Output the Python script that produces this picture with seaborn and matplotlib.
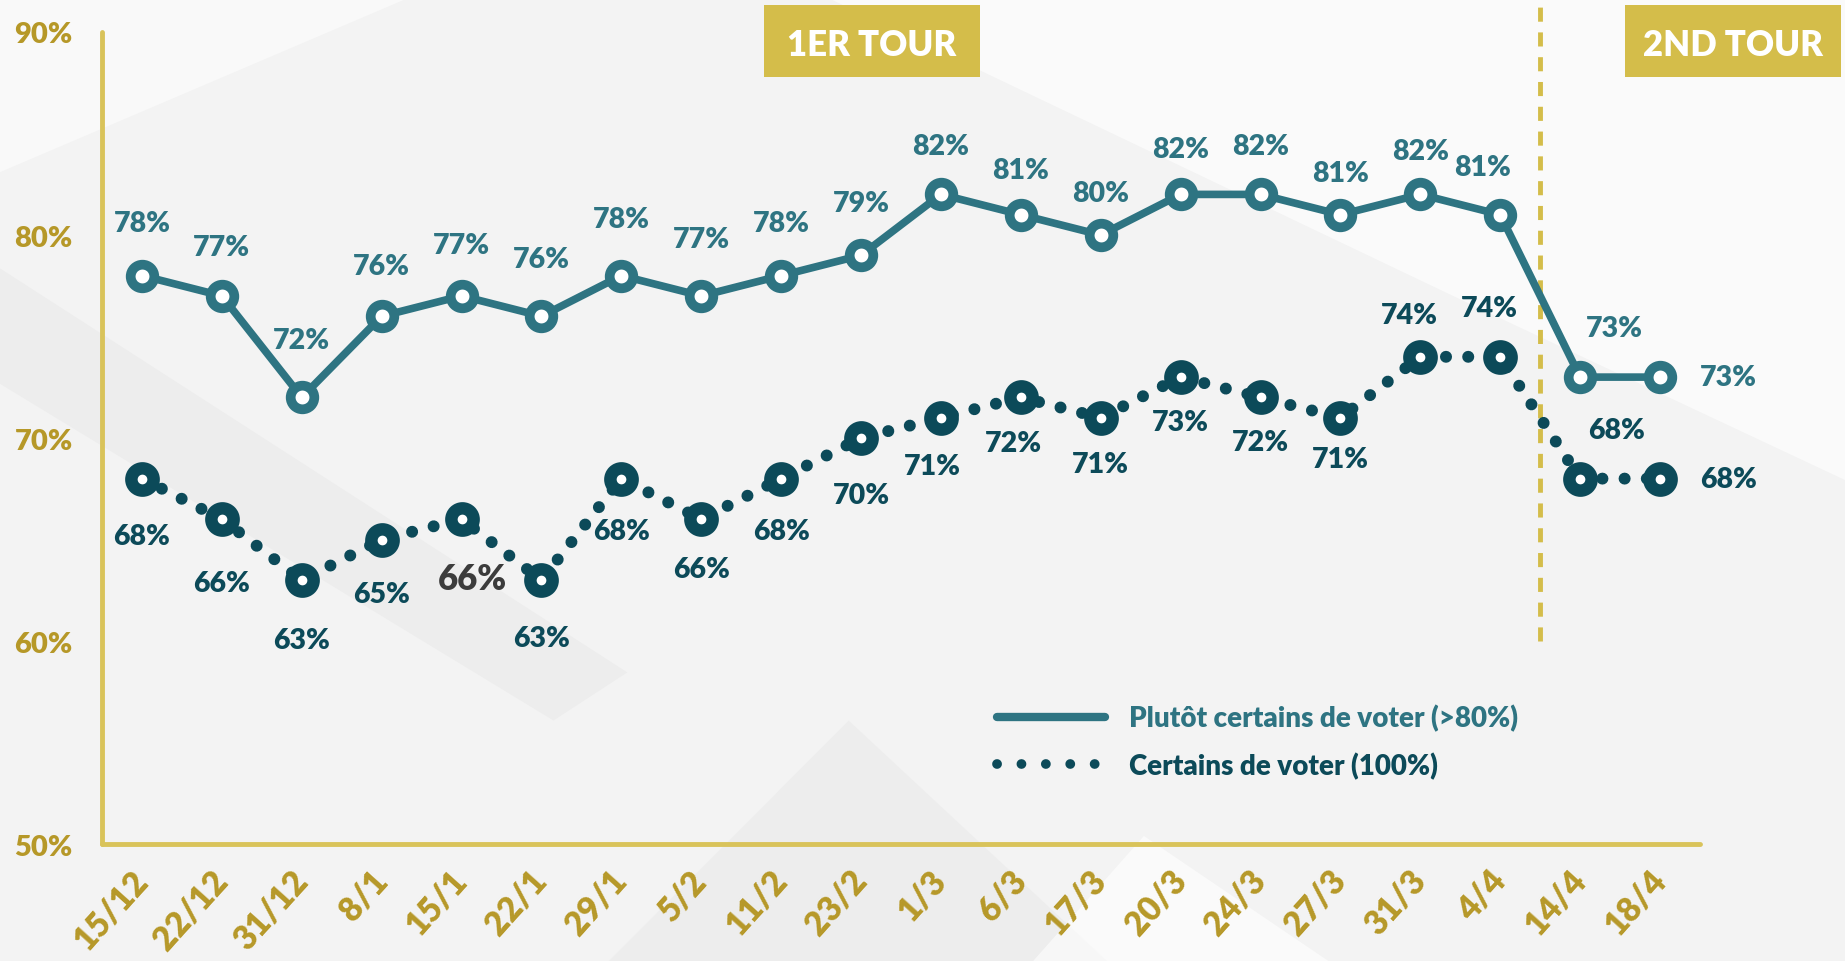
import numpy as np
import matplotlib.pyplot as plt
import seaborn as sns
import pandas as pd
from matplotlib.lines import Line2D
from matplotlib.patches import Rectangle, Polygon

# data
dates = ['15/12', '22/12', '31/12', '8/1', '15/1', '22/1', '29/1', '5/2', '11/2', '23/2',
         '1/3', '6/3', '17/3', '20/3', '24/3', '27/3', '31/3', '4/4', '14/4', '18/4']
plutot = [78, 77, 72, 76, 77, 76, 78, 77, 78, 79, 82, 81, 80, 82, 82, 81, 82, 81, 73, 73]
certains = [68, 66, 63, 65, 66, 63, 68, 66, 68, 70, 71, 72, 71, 73, 72, 71, 74, 74, 68, 68]
y_ticks = [50, 60, 70, 80, 90]
leg_labels = ['Plutôt certains de voter (>80%)', 'Certains de voter (100%)']
tours = ['1ER TOUR', '2ND TOUR']

TEAL = '#2E7482'
DARK = '#0C4A59'
GOLD = '#B69828'
BOX = '#D4BD4A'
AXLINE = '#D9C35A'

sns.set_style('white')
plt.rcParams['font.family'] = ['Lato', 'DejaVu Sans']

df = pd.DataFrame({'pos': np.arange(len(dates)), 'plutot': plutot, 'certains': certains})

fig = plt.figure(figsize=(18.45, 9.62), dpi=100, facecolor='#F3F3F3')

# faint diagonal background shapes (behind everything)
shapes = [
    ([(0.45, 1.0), (1.0, 1.0), (1.0, 0.5), (0.8, 0.68)], 'white', 0.6),
    ([(0.0, 0.72), (0.0, 0.6), (0.3, 0.25), (0.34, 0.3)], '#E9E9E9', 0.6),
    ([(0.33, 0.0), (0.6, 0.0), (0.46, 0.25)], '#EAEAEA', 0.6),
    ([(0.56, 0.0), (0.72, 0.0), (0.62, 0.13)], 'white', 0.6),
    ([(0.0, 1.0), (0.22, 1.0), (0.0, 0.82)], 'white', 0.5),
]
for pts, col, a in shapes:
    fig.patches.append(Polygon(pts, closed=True, transform=fig.transFigure,
                               facecolor=col, edgecolor='none', alpha=a, zorder=-5))

ax = fig.add_axes([0.0553, 0.1216, 0.8661, 0.8441])
ax.set_facecolor('none')

sns.lineplot(data=df, x='pos', y='certains', ax=ax, color=DARK, lw=8.6,
             linestyle=(0, (0.01, 1.85)), dash_capstyle='round',
             marker='o', ms=16, mew=9, mfc='white', mec=DARK, zorder=3)
sns.lineplot(data=df, x='pos', y='plutot', ax=ax, color=TEAL, lw=5.5,
             marker='o', ms=17, mew=7, mfc='white', mec=TEAL, zorder=4)

ax.set_xlim(-0.5, 19.5)
ax.set_ylim(50, 90)
ax.set_xlabel('')
ax.set_ylabel('')

# value labels (offsets in points)
top_dx = {17: -13, 18: 25, 19: 49}
top_dy = [38, 35, 41, 36, 37, 41, 41, 41, 38, 38, 35, 32, 30, 33, 35, 30, 31, 34, 35, 0]
bot_dx = {4: 8, 10: -6, 11: -5, 16: -8, 17: -8, 18: 26, 19: 49}
bot_dy = [-41, -46, -43, -39, -43, -42, -38, -36, -38, -41, -35, -33, -33, -32, -32, -30, 30, 35, 35, 0]

for i, v in enumerate(plutot):
    ax.annotate(f'{v}%', (i, v), xytext=(top_dx.get(i, 0), top_dy[i]), textcoords='offset points',
                ha='center', va='center', fontsize=20.5, fontweight='heavy', color=TEAL,
                annotation_clip=False, zorder=5)
for i, v in enumerate(certains):
    col, fs = DARK, 20.5
    if i == 4:
        col, fs = '#3C3C3C', 25
    ax.annotate(f'{v}%', (i, v), xytext=(bot_dx.get(i, 0), bot_dy[i]), textcoords='offset points',
                ha='center', va='center', fontsize=fs, fontweight='heavy', color=col,
                annotation_clip=False, zorder=5)

# axes styling
sns.despine(ax=ax)
for side in ['left', 'bottom']:
    ax.spines[side].set_color(AXLINE)
    ax.spines[side].set_linewidth(3.5)
    ax.spines[side].set_capstyle('round')
ax.set_yticks(y_ticks)
ax.set_yticklabels([f'{t}%' for t in y_ticks])
ax.set_xticks(df['pos'])
ax.set_xticklabels(dates, rotation=48, ha='right', va='center', rotation_mode='anchor')
ax.tick_params(axis='y', length=0, pad=21, labelsize=21, labelcolor=GOLD)
ax.tick_params(axis='x', length=0, pad=22, labelsize=24, labelcolor=GOLD)
for lab in ax.get_xticklabels() + ax.get_yticklabels():
    lab.set_fontweight('heavy')
ax.grid(False)

# separation between the two rounds
ax.plot([17.5, 17.5], [60, 91.3], color=BOX, lw=3.5, linestyle=(0, (2.9, 2.2)),
        clip_on=False, zorder=2)

# round boxes
for (x0, w), txt in zip([(0.414, 0.117), (0.881, 0.117)], tours):
    fig.patches.append(Rectangle((x0, 0.919), w, 0.0748, transform=fig.transFigure,
                                 facecolor=BOX, edgecolor='none', zorder=3))
    fig.text(x0 + w / 2, 0.919 + 0.0748 / 2 - 0.004, txt, ha='center', va='center',
             fontsize=25, fontweight='heavy', color='white', zorder=4)

# legend
handles = [Line2D([], [], color=TEAL, lw=6, solid_capstyle='round'),
           Line2D([], [], color=DARK, lw=7, linestyle=(0, (0.01, 2.5)), dash_capstyle='round')]
ax.legend(handles, leg_labels, loc='upper left', bbox_to_anchor=(0.560, 0.172),
          frameon=False, handlelength=3.9, handletextpad=0.85,
          labelspacing=0.72, borderaxespad=0, borderpad=0, labelcolor=[TEAL, DARK],
          prop={'weight': 'heavy', 'size': 20})

fig.savefig('out.png', dpi=100, facecolor=fig.get_facecolor())
